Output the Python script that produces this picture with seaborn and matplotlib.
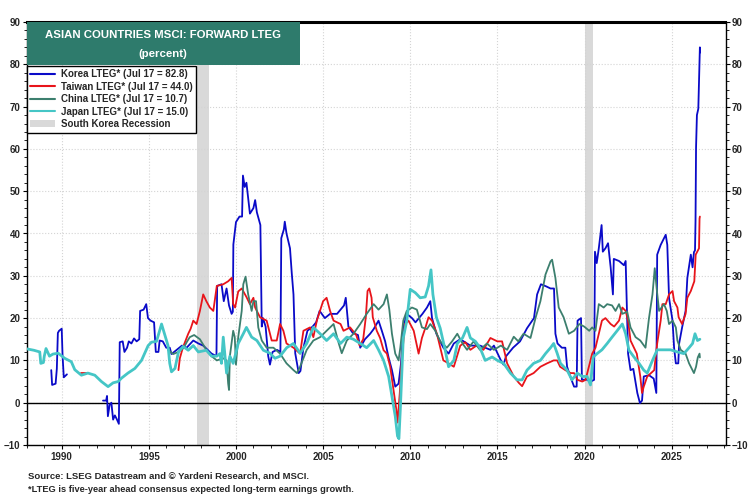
import numpy as np
import pandas as pd
import seaborn as sns
from matplotlib import pyplot as plt
from matplotlib.lines import Line2D
from matplotlib.patches import Patch, Rectangle
from matplotlib.ticker import MultipleLocator

nan = np.nan

# values (fractional years, percent)
korea_year = [1989.40, 1989.45, 1989.65, 1989.72, 1989.78, 1989.85, 1990.00, 1990.05, 1990.12, 1990.30, 1991.0,
              1992.37, 1992.55, 1992.60, 1992.65, 1992.75, 1992.85, 1992.95, 1993.05, 1993.15, 1993.28, 1993.33,
              1993.50, 1993.60, 1993.75, 1993.85, 1994.00, 1994.15, 1994.30, 1994.45, 1994.50, 1994.70, 1994.85,
              1994.95, 1995.10, 1995.30, 1995.40, 1995.55, 1995.62, 1995.80, 1996.00, 1996.20, 1996.30, 1996.60,
              1996.90, 1997.17, 1997.35, 1997.55, 1997.84, 1998.12, 1998.40, 1998.60, 1998.88, 1998.92, 1999.17,
              1999.30, 1999.46, 1999.60, 1999.75, 1999.82, 1999.85, 2000.00, 2000.20, 2000.35, 2000.40, 2000.50,
              2000.60, 2000.80, 2001.00, 2001.10, 2001.20, 2001.40, 2001.48, 2001.55, 2001.70, 2001.85, 2001.95,
              2002.10, 2002.35, 2002.55, 2002.60, 2002.75, 2002.80, 2002.90, 2003.10, 2003.20, 2003.30, 2003.40,
              2003.60, 2003.70, 2003.87, 2004.10, 2004.40, 2004.60, 2004.80, 2005.10, 2005.40, 2005.80, 2006.20,
              2006.30, 2006.45, 2006.70, 2007.00, 2007.13, 2007.40, 2007.70, 2007.90, 2008.18, 2008.37, 2008.56,
              2008.75, 2008.95, 2009.14, 2009.33, 2009.47, 2009.60, 2009.80, 2010.10, 2010.30, 2010.70, 2010.96,
              2011.15, 2011.25, 2011.50, 2011.90, 2012.20, 2012.50, 2012.87, 2013.45, 2014.00, 2014.60, 2014.80,
              2015.20, 2015.35, 2015.50, 2015.90, 2016.30, 2016.70, 2017.10, 2017.28, 2017.50, 2017.80, 2018.05,
              2018.25, 2018.33, 2018.45, 2018.70, 2018.90, 2019.00, 2019.20, 2019.40, 2019.55, 2019.60, 2019.80,
              2019.85, 2020.10, 2020.35, 2020.55, 2020.60, 2020.70, 2020.82, 2020.98, 2021.05, 2021.20, 2021.35,
              2021.50, 2021.63, 2021.68, 2021.98, 2022.26, 2022.36, 2022.50, 2022.64, 2022.80, 2023.03, 2023.18,
              2023.30, 2023.40, 2023.70, 2023.97, 2024.12, 2024.17, 2024.37, 2024.56, 2024.66, 2024.75, 2024.85,
              2025.05, 2025.14, 2025.24, 2025.38, 2025.43, 2025.60, 2025.80, 2025.90, 2026.10, 2026.20, 2026.28,
              2026.34, 2026.37, 2026.40, 2026.45, 2026.53, 2026.57, 2026.62, 2026.63]
korea_val = [7.7, 4.2, 4.5, 8.0, 16.5, 17.0, 17.5, 11.0, 6.0, 6.7, nan,
             0.5, 0.5, 1.6, -3.2, -0.5, 0.0, -4.0, -3.0, -3.8, -5.0, 14.3,
             14.5, 12.0, 13.0, 14.5, 14.0, 15.2, 14.5, 15.0, 21.7, 22.0, 23.3,
             20.0, 19.4, 19.0, 12.0, 12.0, 14.7, 14.5, 13.0, 13.0, 11.5, 12.5,
             13.5, 13.0, 13.8, 14.7, 14.0, 13.5, 12.4, 11.6, 11.0, 27.6, 28.0,
             24.0, 27.0, 23.0, 21.0, 21.5, 37.4, 42.7, 44.0, 44.0, 53.7, 51.0,
             52.0, 44.7, 46.0, 47.9, 45.0, 42.0, 18.0, 20.0, 18.0, 11.0, 9.0,
             12.0, 12.5, 12.0, 38.9, 41.0, 42.8, 40.0, 36.5, 30.7, 25.6, 11.7,
             7.0, 7.5, 13.0, 17.0, 18.0, 19.0, 21.7, 20.0, 21.0, 21.0, 23.0,
             24.8, 18.0, 16.5, 16.0, 13.0, 15.0, 16.3, 17.4, 19.4, 17.0, 14.5,
             10.8, 7.7, 3.8, 4.5, 9.3, 17.8, 21.0, 20.0, 19.0, 21.0, 22.5,
             24.0, 20.0, 16.3, 13.0, 11.6, 14.0, 15.0, 13.5, 13.5, 12.5, 13.5,
             10.0, 9.0, 11.0, 13.0, 14.5, 17.6, 20.0, 25.6, 28.0, 27.5, 27.0,
             27.0, 16.3, 14.0, 13.0, 13.0, 8.5, 6.0, 3.8, 3.8, 19.4, 20.0,
             5.4, 5.5, 5.0, 5.4, 35.7, 33.0, 36.5, 42.0, 35.7, 36.5, 37.7,
             32.0, 25.6, 34.0, 33.5, 32.5, 33.5, 11.6, 7.7, 8.0, 2.3, -0.1,
             0.5, 6.2, 6.5, 5.7, 2.3, 35.0, 37.3, 38.9, 39.7, 37.3, 24.8,
             19.4, 13.0, 9.3, 9.3, 14.0, 17.8, 21.7, 29.5, 35.0, 32.0, 35.6,
             36.0, 43.0, 60.3, 68.0, 69.5, 76.3, 84.0, 82.8]

taiwan_year = [1991.10, 1991.50, 1992.0,
               1996.70, 1996.78, 1996.95, 1997.26, 1997.40, 1997.55, 1997.74, 1997.93, 1998.12, 1998.30, 1998.50,
               1998.70, 1998.90, 1999.27, 1999.55, 1999.75, 1999.84, 1999.95, 2000.13, 2000.33, 2000.60, 2000.80,
               2001.00, 2001.10, 2001.38, 2001.76, 2002.05, 2002.34, 2002.53, 2002.72, 2002.90, 2003.30, 2003.68,
               2003.87, 2004.25, 2004.44, 2004.64, 2005.00, 2005.20, 2005.40, 2005.60, 2006.00, 2006.17, 2006.55,
               2006.90, 2007.10, 2007.30, 2007.45, 2007.55, 2007.65, 2007.78, 2007.85, 2008.08, 2008.27, 2008.47,
               2008.66, 2008.85, 2009.04, 2009.20, 2009.27, 2009.40, 2009.52, 2009.70, 2009.90, 2010.20, 2010.48,
               2010.67, 2010.86, 2011.05, 2011.25, 2011.53, 2011.90, 2012.20, 2012.50, 2012.87, 2013.16, 2013.45,
               2013.80, 2014.20, 2014.60, 2015.00, 2015.27, 2015.56, 2015.94, 2016.23, 2016.42, 2016.70, 2017.08,
               2017.47, 2017.85, 2018.23, 2018.43, 2018.60, 2018.90, 2019.20, 2019.40, 2019.60, 2019.87, 2020.06,
               2020.25, 2020.44, 2020.63, 2020.82, 2021.00, 2021.20, 2021.50, 2021.70, 2021.98, 2022.17, 2022.36,
               2022.50, 2022.64, 2022.84, 2023.00, 2023.20, 2023.30, 2023.40, 2023.60, 2024.00, 2024.17, 2024.37,
               2024.47, 2024.66, 2024.85, 2025.05, 2025.14, 2025.33, 2025.40, 2025.60, 2025.80, 2025.90, 2026.10,
               2026.30, 2026.38, 2026.57, 2026.60, 2026.62]
taiwan_val = [7.0, 7.0, nan,
              7.7, 10.5, 13.0, 16.3, 17.5, 19.4, 18.6, 21.7, 25.6, 24.0, 22.5,
              21.7, 27.6, 28.0, 28.7, 29.5, 23.3, 22.5, 26.3, 27.0, 25.0, 23.3,
              24.8, 22.5, 20.2, 19.4, 14.7, 14.7, 18.6, 17.0, 14.0, 13.0, 11.6,
              17.0, 17.8, 15.5, 19.4, 24.0, 24.8, 21.7, 19.4, 18.6, 17.0, 17.8,
              16.0, 13.5, 15.0, 20.2, 26.4, 27.0, 24.8, 20.2, 17.0, 15.3, 12.4,
              11.6, 8.5, 3.0, -1.6, -4.7, 2.3, 10.8, 18.6, 19.4, 17.0, 11.6,
              15.3, 17.6, 20.2, 19.4, 16.3, 10.0, 9.3, 8.5, 13.5, 14.3, 12.5,
              13.5, 12.5, 15.3, 14.5, 14.5, 9.3, 6.2, 4.7, 3.9, 6.2, 7.0,
              8.5, 9.3, 10.0, 10.0, 8.5, 7.7, 7.0, 7.0, 5.4, 5.0, 5.4,
              8.5, 11.6, 13.0, 16.3, 19.4, 20.0, 18.6, 18.0, 19.4, 22.5, 21.7,
              19.4, 14.7, 13.0, 11.6, 6.2, 2.3, 3.8, 6.2, 7.7, 14.0, 19.4,
              23.3, 23.3, 25.6, 26.4, 24.0, 22.5, 20.2, 18.6, 21.0, 24.8, 26.4,
              28.7, 35.0, 36.5, 43.5, 44.0]

china_year = [1996.10, 1996.40, 1996.70, 1997.00, 1997.20, 1997.35, 1997.60, 1997.93, 1998.30, 1998.60, 1998.90,
              1999.27, 1999.46, 1999.55, 1999.60, 1999.65, 1999.84, 1999.93, 2000.00, 2000.13, 2000.33, 2000.42,
              2000.55, 2000.70, 2000.90, 2001.00, 2001.15, 2001.28, 2001.48, 2001.76, 2002.15, 2002.53, 2002.90,
              2003.30, 2003.50, 2003.68, 2004.06, 2004.44, 2004.83, 2005.20, 2005.60, 2005.90, 2006.07, 2006.36,
              2006.74, 2007.13, 2007.50, 2007.90, 2008.18, 2008.47, 2008.66, 2008.80, 2008.95, 2009.14, 2009.33,
              2009.43, 2009.60, 2009.80, 2010.10, 2010.38, 2010.67, 2010.96, 2011.15, 2011.44, 2011.72, 2012.10,
              2012.40, 2012.70, 2013.00, 2013.26, 2013.64, 2014.00, 2014.40, 2014.80, 2015.20, 2015.56, 2015.94,
              2016.20, 2016.50, 2016.90, 2017.20, 2017.47, 2017.76, 2018.05, 2018.14, 2018.33, 2018.52, 2018.80,
              2019.10, 2019.40, 2019.70, 2019.98, 2020.27, 2020.44, 2020.63, 2020.82, 2021.10, 2021.30, 2021.58,
              2021.78, 2021.98, 2022.17, 2022.45, 2022.64, 2022.93, 2023.20, 2023.50, 2023.70, 2023.90, 2024.03,
              2024.14, 2024.28, 2024.56, 2024.72, 2024.85, 2025.05, 2025.24, 2025.33, 2025.52, 2025.80, 2026.00,
              2026.28, 2026.40, 2026.50, 2026.60, 2026.62]
china_val = [12.5, 11.5, 12.0, 13.0, 14.5, 15.5, 16.0, 15.0, 12.5, 11.0, 10.0,
             10.5, 10.0, 4.6, 3.0, 11.0, 17.0, 15.5, 9.0, 15.5, 21.7, 28.0,
             29.8, 25.6, 21.7, 24.0, 24.0, 17.8, 14.7, 13.0, 13.0, 11.6, 9.3,
             7.7, 7.0, 8.5, 12.5, 14.7, 15.5, 17.0, 18.6, 14.0, 11.7, 14.7,
             16.3, 18.6, 21.0, 23.3, 22.0, 23.3, 25.6, 22.0, 16.3, 11.6, 10.0,
             13.0, 19.4, 21.7, 22.5, 22.0, 17.8, 17.4, 18.6, 17.0, 14.5, 13.0,
             14.5, 16.3, 14.0, 12.5, 14.5, 12.5, 14.0, 12.5, 13.5, 12.5, 15.6,
             14.5, 16.3, 15.3, 20.2, 24.0, 30.3, 33.4, 33.8, 29.5, 22.5, 20.2,
             16.3, 17.0, 18.6, 18.0, 17.0, 17.8, 17.0, 23.3, 22.5, 23.3, 23.0,
             21.7, 23.3, 21.0, 21.5, 17.8, 15.5, 14.7, 13.0, 20.0, 25.6, 31.8,
             27.0, 21.7, 23.3, 21.7, 18.6, 19.4, 17.8, 14.7, 12.5, 11.6, 9.3,
             7.0, 8.5, 10.7, 11.6, 10.7]

japan_year = [1987.90, 1988.40, 1988.74, 1988.80, 1988.95, 1989.00, 1989.10, 1989.30, 1989.50, 1989.80, 1990.17,
              1990.55, 1990.75, 1991.13, 1991.50, 1991.90, 1992.28, 1992.66, 1992.95, 1993.24, 1993.43, 1993.80,
              1994.20, 1994.58, 1994.96, 1995.15, 1995.44, 1995.73, 1995.88, 1996.10, 1996.20, 1996.30, 1996.50,
              1996.70, 1996.97, 1997.26, 1997.55, 1997.84, 1998.30, 1998.60, 1998.90, 1999.08, 1999.17, 1999.27,
              1999.46, 1999.65, 1999.84, 2000.13, 2000.42, 2000.60, 2000.90, 2001.20, 2001.57, 2001.95, 2002.24,
              2002.53, 2002.91, 2003.30, 2003.68, 2004.06, 2004.44, 2004.83, 2005.20, 2005.60, 2006.00, 2006.36,
              2006.74, 2007.13, 2007.50, 2007.90, 2008.18, 2008.47, 2008.76, 2008.95, 2009.14, 2009.27, 2009.35,
              2009.43, 2009.60, 2009.80, 2010.00, 2010.29, 2010.57, 2010.86, 2011.05, 2011.19, 2011.30, 2011.50,
              2011.72, 2012.00, 2012.20, 2012.50, 2012.70, 2013.00, 2013.26, 2013.45, 2013.74, 2014.00, 2014.30,
              2014.70, 2015.00, 2015.36, 2015.75, 2016.13, 2016.42, 2016.70, 2017.08, 2017.47, 2017.76, 2018.05,
              2018.23, 2018.43, 2018.62, 2019.00, 2019.28, 2019.58, 2019.87, 2020.15, 2020.34, 2020.50, 2020.72,
              2021.00, 2021.30, 2021.58, 2021.87, 2022.17, 2022.36, 2022.55, 2022.84, 2023.13, 2023.40, 2023.60,
              2023.90, 2024.17, 2024.56, 2024.94, 2025.33, 2025.70, 2026.00, 2026.20, 2026.34, 2026.48, 2026.62]
japan_val = [12.8, 12.4, 12.0, 9.3, 9.5, 11.0, 12.8, 11.0, 11.5, 11.7, 10.5,
             9.7, 7.8, 6.5, 7.0, 6.5, 5.0, 3.8, 4.7, 5.0, 5.8, 7.0,
             8.1, 10.0, 13.5, 14.3, 14.5, 18.6, 16.5, 13.5, 9.3, 7.3, 8.1,
             12.0, 13.3, 12.4, 13.5, 12.0, 12.4, 11.0, 11.0, 11.6, 9.3, 15.5,
             7.0, 11.0, 9.3, 14.0, 16.3, 17.8, 15.5, 14.7, 12.4, 11.7, 10.5,
             11.0, 13.0, 14.0, 11.7, 14.0, 17.8, 16.3, 14.7, 16.3, 14.0, 15.5,
             15.0, 14.0, 13.0, 14.7, 12.5, 10.0, 6.2, 1.5, -3.2, -7.9, -8.5,
             -1.6, 15.3, 19.4, 26.8, 26.0, 24.8, 25.0, 27.6, 31.4, 25.6, 20.2,
             17.6, 12.5, 8.5, 10.0, 14.0, 15.3, 17.8, 15.3, 14.5, 13.0, 10.0,
             10.8, 10.0, 9.3, 7.0, 5.4, 5.4, 7.7, 9.3, 10.0, 11.6, 13.0,
             14.0, 11.7, 9.3, 7.7, 5.4, 7.0, 6.2, 6.2, 4.2, 10.8, 11.6,
             12.5, 14.0, 15.5, 17.0, 18.6, 16.3, 12.4, 10.8, 9.3, 7.7, 7.0,
             10.0, 12.5, 12.5, 12.5, 12.0, 11.6, 13.0, 14.0, 16.3, 14.7, 15.0]

recession_start = [1997.75, 2020.05]
recession_end = [1998.45, 2020.50]

series_names = ['Korea LTEG* (Jul 17 = 82.8)', 'Taiwan LTEG* (Jul 17 = 44.0)',
                'China LTEG* (Jul 17 = 10.7)', 'Japan LTEG* (Jul 17 = 15.0)']
series_colors = ['#0a0ac8', '#e8141a', '#3c7f6e', '#45c6c6']

sns.set_style('white')
plt.rcParams['font.family'] = ['Liberation Sans', 'DejaVu Sans']

fig = plt.figure(figsize=(7.5, 5), dpi=100)
ax = fig.add_axes([26.5 / 750, 55 / 500, 699 / 750, 423 / 500])


def to_frame(years, vals):
    df = pd.DataFrame({'year': years, 'value': vals})
    df['seg'] = df['value'].isna().cumsum()
    return df.dropna()


for s, e in zip(recession_start, recession_end):
    ax.axvspan(s, e, color='#d9d9d9', lw=0, zorder=0.5)

ax.axhline(0, color='black', lw=1.0, zorder=1)

data = [(korea_year, korea_val, 1.3), (taiwan_year, taiwan_val, 1.3),
        (china_year, china_val, 1.3), (japan_year, japan_val, 2.0)]
order = [2, 1, 0, 3]  # china under, japan on top
for i in order:
    yrs, vals, lw = data[i]
    sns.lineplot(data=to_frame(yrs, vals), x='year', y='value', units='seg', estimator=None,
                 sort=False, color=series_colors[i], lw=lw, ax=ax, legend=False, zorder=3 + i)

ax.set_xlim(1987.98, 2028.09)
ax.set_ylim(-10, 90)
ax.set_xlabel('')
ax.set_ylabel('')
ax.set_xticks(range(1990, 2030, 5))
ax.xaxis.set_minor_locator(MultipleLocator(1))
ax.yaxis.set_major_locator(MultipleLocator(10))
ax.yaxis.set_minor_locator(MultipleLocator(2))
ax.grid(True, which='major', color='#d4d4d4', ls=':', lw=0.8)
ax.tick_params(axis='both', which='major', labelsize=7, direction='out', length=3, width=0.8, color='black')
ax.tick_params(axis='both', which='minor', direction='out', length=2, width=0.6, color='black')
ax.tick_params(axis='y', which='both', left=True, right=True, labelleft=True, labelright=True, pad=1.5)
ax.tick_params(axis='x', which='both', bottom=True, pad=2)
for lab in ax.get_xticklabels() + ax.get_yticklabels():
    lab.set_fontweight('bold')
for side, sp in ax.spines.items():
    sp.set_color('black')
    sp.set_linewidth(1.0)
ax.spines['top'].set_linewidth(2.2)

# title box
ax.add_patch(Rectangle((0, 1 - 43 / 423), 273 / 699, 43 / 423, transform=ax.transAxes,
                       facecolor='#2e7b6c', edgecolor='none', zorder=10))
ax.text(136.5 / 699, 1 - 13 / 423, 'ASIAN COUNTRIES MSCI: FORWARD LTEG', transform=ax.transAxes,
        ha='center', va='center', color='white', fontsize=8.2, fontweight='bold', zorder=11)
ax.text(136.5 / 699, 1 - 32 / 423, '(percent)', transform=ax.transAxes,
        ha='center', va='center', color='white', fontsize=8.2, fontweight='bold', zorder=11)

handles = [Line2D([], [], color=c, lw=1.5) for c in series_colors]
handles.append(Patch(facecolor='#d9d9d9', edgecolor='none'))
leg = ax.legend(handles, series_names + ['South Korea Recession'], loc='upper left',
                bbox_to_anchor=(0, 1 - 44 / 423), borderaxespad=0, frameon=True,
                fancybox=False, framealpha=1, edgecolor='black', handlelength=2.6, handletextpad=0.6,
                labelspacing=0.25, borderpad=0.35, prop={'weight': 'bold', 'size': 7})
leg.get_frame().set_linewidth(1.0)
leg.set_zorder(12)

fig.text(28 / 750, 1 - 476 / 500, 'Source: LSEG Datastream and \u00a9 Yardeni Research, and MSCI.',
         fontsize=6.8, fontweight='bold', va='center')
fig.text(28 / 750, 1 - 490 / 500, '*LTEG is five-year ahead consensus expected long-term earnings growth.',
         fontsize=6.7, fontweight='bold', va='center')

fig.savefig('out.png', dpi=100)
